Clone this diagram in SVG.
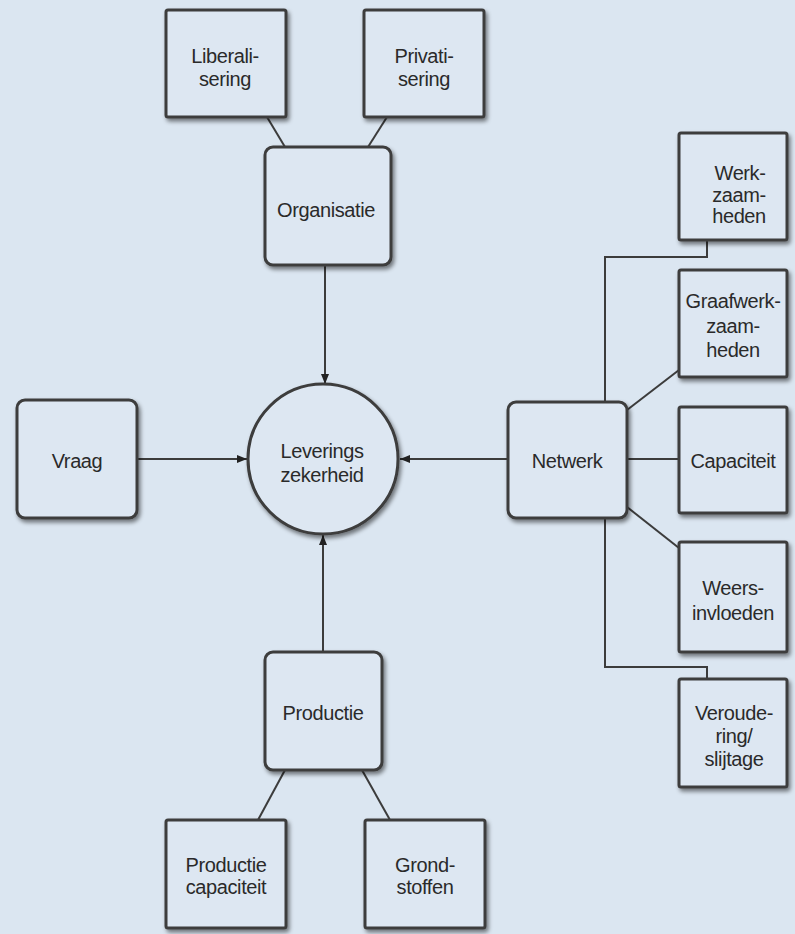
<svg xmlns="http://www.w3.org/2000/svg" width="795" height="934" viewBox="0 0 795 934">
<style>
.box{fill:#dde7f2;stroke:#3c3c3c;stroke-width:3;filter:url(#sh)}
.t{font-family:"Liberation Sans",Arial,sans-serif;font-size:20px;letter-spacing:-0.4px;fill:#2a2a2a;text-anchor:middle}
.c{fill:none;stroke:#3c3c3c;stroke-width:2}
</style>
<defs>
<filter id="sh" x="-20%" y="-20%" width="150%" height="150%">
<feGaussianBlur in="SourceAlpha" stdDeviation="2"/>
<feOffset dx="2" dy="3" result="b"/>
<feComponentTransfer><feFuncA type="linear" slope="0.5"/></feComponentTransfer>
<feMerge><feMergeNode/><feMergeNode in="SourceGraphic"/></feMerge>
</filter>
<marker id="ar" viewBox="0 0 10 10" refX="10" refY="5" markerWidth="5" markerHeight="5" orient="auto">
<path d="M0,1 L10,5 L0,9 Z" fill="#222"/>
</marker>
</defs>
<rect width="795" height="934" fill="#dbe6f1"/>
<g id="connectors">
<line class="c" x1="267" y1="117" x2="285" y2="147"/>
<line class="c" x1="387" y1="117" x2="368" y2="147"/>
<line class="c" x1="325" y1="265" x2="325" y2="384" marker-end="url(#ar)"/>
<line class="c" x1="137" y1="459" x2="247" y2="459" marker-end="url(#ar)"/>
<line class="c" x1="508" y1="459" x2="400" y2="459" marker-end="url(#ar)"/>
<line class="c" x1="323" y1="652" x2="323" y2="535" marker-end="url(#ar)"/>
<line class="c" x1="285" y1="770" x2="258" y2="820"/>
<line class="c" x1="362" y1="770" x2="390" y2="820"/>
<polyline class="c" points="605,402 605,257 707,257 707,240"/>
<line class="c" x1="627" y1="410" x2="679" y2="370"/>
<line class="c" x1="627" y1="459" x2="679" y2="459"/>
<line class="c" x1="627" y1="507" x2="679" y2="548"/>
<polyline class="c" points="605,518 605,667 707,667 707,679"/>
</g>
<g id="liberalisering"><rect class="box" x="166" y="10" width="120" height="107" rx="2"/><text class="t" x="225" y="63">Liberali-</text><text class="t" x="225" y="86">sering</text></g>
<g id="privatisering"><rect class="box" x="364" y="10" width="120" height="107" rx="2"/><text class="t" x="424" y="63">Privati-</text><text class="t" x="424" y="86">sering</text></g>
<g id="organisatie"><rect class="box" x="265" y="147" width="126" height="118" rx="8"/><text class="t" x="326" y="217">Organisatie</text></g>
<g id="vraag"><rect class="box" x="17" y="400" width="120" height="118" rx="8"/><text class="t" x="77" y="468">Vraag</text></g>
<g id="leveringszekerheid"><circle class="box" cx="323" cy="459" r="75"/><text class="t" x="322" y="458">Leverings</text><text class="t" x="322" y="482">zekerheid</text></g>
<g id="netwerk"><rect class="box" x="508" y="402" width="119" height="116" rx="8"/><text class="t" x="567" y="468">Netwerk</text></g>
<g id="werkzaamheden"><rect class="box" x="679" y="133" width="108" height="107" rx="2"/><text class="t" x="740" y="180">Werk-</text><text class="t" x="739" y="202">zaam-</text><text class="t" x="739" y="223">heden</text></g>
<g id="graafwerkzaamheden"><rect class="box" x="679" y="270" width="108" height="107" rx="2"/><text class="t" x="733" y="308">Graafwerk-</text><text class="t" x="733" y="333">zaam-</text><text class="t" x="733" y="357">heden</text></g>
<g id="capaciteit"><rect class="box" x="679" y="407" width="108" height="106" rx="2"/><text class="t" x="733" y="468">Capaciteit</text></g>
<g id="weersinvloeden"><rect class="box" x="679" y="542" width="108" height="110" rx="2"/><text class="t" x="733" y="595">Weers-</text><text class="t" x="733" y="620">invloeden</text></g>
<g id="veroudering"><rect class="box" x="679" y="679" width="108" height="108" rx="2"/><text class="t" x="734" y="720">Veroude-</text><text class="t" x="734" y="743">ring/</text><text class="t" x="734" y="766">slijtage</text></g>
<g id="productie"><rect class="box" x="265" y="652" width="117" height="118" rx="8"/><text class="t" x="323" y="720">Productie</text></g>
<g id="productiecapaciteit"><rect class="box" x="166" y="820" width="120" height="108" rx="2"/><text class="t" x="226" y="872">Productie</text><text class="t" x="226" y="894">capaciteit</text></g>
<g id="grondstoffen"><rect class="box" x="365" y="820" width="120" height="108" rx="2"/><text class="t" x="425" y="872">Grond-</text><text class="t" x="425" y="894">stoffen</text></g>
</svg>
